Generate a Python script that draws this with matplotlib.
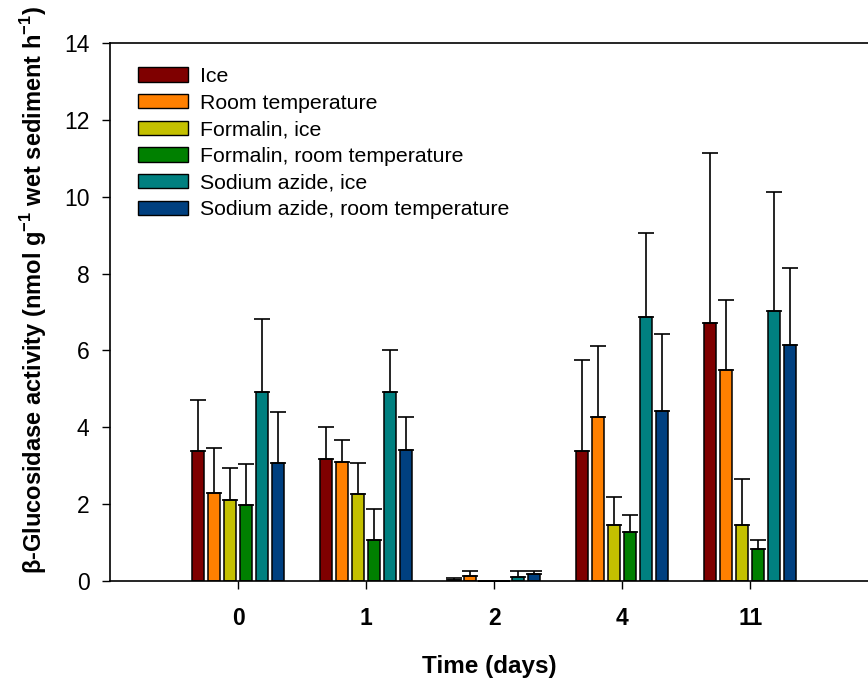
import numpy as np
import matplotlib
matplotlib.use("Agg")
import matplotlib.pyplot as plt
from matplotlib.patches import Patch

plt.rcParams['font.family'] = ['Liberation Sans', 'DejaVu Sans']
plt.rcParams['mathtext.fontset'] = 'custom'
plt.rcParams['mathtext.rm'] = 'Liberation Sans'
plt.rcParams['mathtext.bf'] = 'Liberation Sans:bold'

days = ['0', '1', '2', '4', '11']
treatments = ['Ice', 'Room temperature', 'Formalin, ice', 'Formalin, room temperature',
              'Sodium azide, ice', 'Sodium azide, room temperature']
colors = ['#7f0000', '#ff8000', '#c4c000', '#008000', '#008080', '#004080']

# mean activity per treatment, one value per sampling day
ice = [3.39, 3.18, 0.02, 3.37, 6.71]
room = [2.30, 3.10, 0.12, 4.27, 5.50]
form_ice = [2.12, 2.26, 0.0, 1.47, 1.45]
form_room = [1.97, 1.07, 0.0, 1.28, 0.83]
azide_ice = [4.92, 4.91, 0.11, 6.88, 7.03]
azide_room = [3.07, 3.42, 0.17, 4.42, 6.13]

# standard errors (upper bars only)
ice_err = [1.32, 0.84, 0.07, 2.39, 4.43]
room_err = [1.15, 0.57, 0.14, 1.85, 1.82]
form_ice_err = [0.83, 0.81, 0.0, 0.71, 1.20]
form_room_err = [1.08, 0.81, 0.0, 0.43, 0.24]
azide_ice_err = [1.90, 1.11, 0.15, 2.18, 3.08]
azide_room_err = [1.34, 0.84, 0.09, 2.01, 2.01]

means = [ice, room, form_ice, form_room, azide_ice, azide_room]
errs = [ice_err, room_err, form_ice_err, form_room_err, azide_ice_err, azide_room_err]

fig = plt.figure(figsize=(8.68, 6.83), dpi=100)
ax = fig.add_axes([110/868, 102/683, 1 - 110/868, 538/683])

x = np.arange(len(days))
step = 0.125
width = 0.094
for i, (m, e) in enumerate(zip(means, errs)):
    pos = x + (i - 2.5) * step
    ax.bar(pos, m, width, color=colors[i], edgecolor='black', linewidth=1.1, zorder=2)
    ax.errorbar(pos, m, yerr=[np.zeros(len(e)), e], fmt='none', ecolor='black',
                elinewidth=1.2, capsize=6, capthick=1.2, zorder=3)

ax.set_xlim(-1, 4.92)
ax.set_ylim(0, 14)
ax.set_yticks(range(0, 15, 2))
ax.set_xticks(x)
ax.set_xticklabels(days, fontweight='bold')
ax.tick_params(axis='both', direction='out', length=5.8, width=1, labelsize=16.5)
ax.tick_params(axis='x', pad=13)
ax.tick_params(axis='y', pad=9)
ax.spines['right'].set_visible(False)
for s in ['left', 'top', 'bottom']:
    ax.spines[s].set_linewidth(1.2)

ax.set_xlabel('Time (days)', fontsize=17.5, fontweight='bold', labelpad=18)
ax.set_ylabel(r'β-Glucosidase activity (nmol g$^{\mathbf{-1}}$ wet sediment h$^{\mathbf{-1}}$)',
              fontsize=17, fontweight='bold')
ax.yaxis.set_label_coords(-0.08, 0.541)

handles = [Patch(facecolor=c, edgecolor='black', linewidth=1.0) for c in colors]
ax.legend(handles, treatments, loc='upper left', bbox_to_anchor=(138/868, 616/683),
          bbox_transform=fig.transFigure, frameon=False, fontsize=15.3,
          handlelength=2.35, handleheight=0.66, handletextpad=0.56,
          labelspacing=0.36, borderpad=0, borderaxespad=0)

fig.savefig('out.png', dpi=100)
